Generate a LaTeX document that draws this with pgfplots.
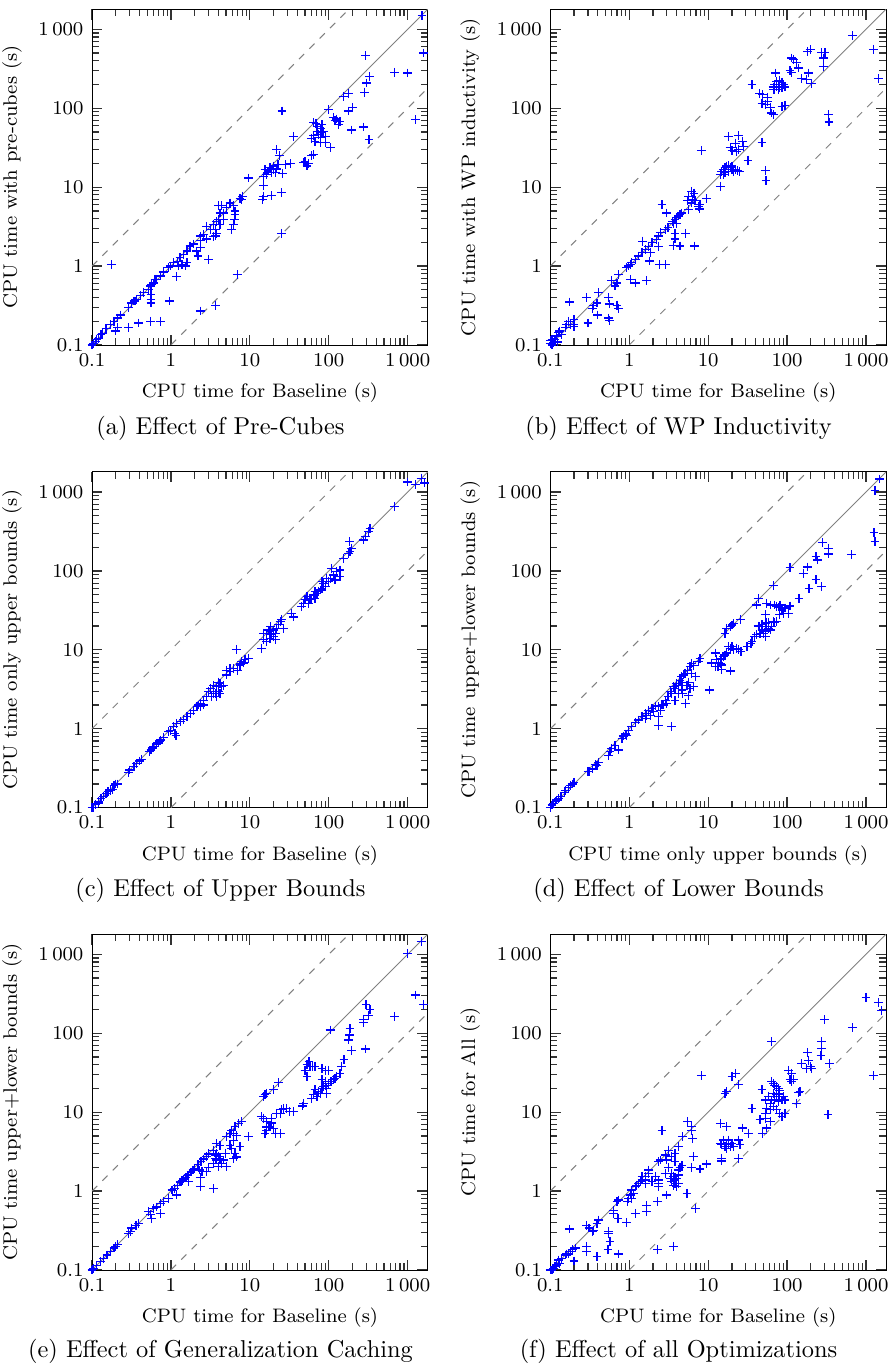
\documentclass[border=0pt]{standalone}
\usepackage{pgfplots}
\pgfplotsset{compat=1.18}

\pgfplotsset{
  every axis/.append style={
    scale only axis, width=137.7pt, height=137.7pt,
    anchor=south west,
    xmin=0.1, xmax=1800, ymin=0.1, ymax=1800,
    log ticks with fixed point,
    /pgf/number format/1000 sep={\,},
    tick label style={font=\footnotesize},
    label style={font=\footnotesize},
  },
  myPts/.style={only marks, mark=+, mark size=1.8pt, blue, line width=0.5pt},
}

% diagonal, 10x faster, 10x slower
\newcommand{\reflines}{%
  \addplot[gray, no marks] coordinates {(0.1,0.1) (1800,1800)};
  \addplot[gray, no marks, dashed] coordinates {(0.1,1) (180,1800)};
  \addplot[gray, no marks, dashed] coordinates {(1,0.1) (1800,180)};
}

\begin{document}
\begin{tikzpicture}
\useasboundingbox (0,0) rectangle (364.49pt,560.06pt);

% (a) pre-cubes
\begin{loglogaxis}[at={(37.72pt,418.61pt)},
  every tick/.style={black!80, line width=0.5pt},
  xlabel={CPU time for Baseline (s)}, ylabel={CPU time with pre-cubes (s)}]
\reflines
\addplot[myPts] coordinates {
(1520,1490) (1600,500) (289,465) (680,286) (1000,280) (1250,72) (283,160) (303,209) (327,250) (275,58) (324,40) (195,53) (177,92) (200,103) (153,142) (177,152) (99,96) (106,31.5) (115,76) (120,70) (133,62) (125,73) (139,68)
(64,66) (71,59) (78,55) (82,50) (74,46) (90,44) (61,41) (67,38) (78,37) (90,37) (82,62) (71,51) (64,45) (78,43) (86,51) (69,64)
(55,20) (50,21) (53,18.5) (61,25) (64,26) (48,20.5)
(36,44) (25.5,92) (33,20) (28,19.4) (26,15) (22,30) (23.5,25) (22.7,19.4) (25,8.5) (25,2.6)
(15.6,16.7) (17,16) (19,15.2) (20,16.7) (18,17.6) (16.3,14.3) (21.3,15.5) (15,13.6) (14.9,10.5) (14.9,7.7) (14.5,7) (19,7.8) (22,17) (20,18.5)
(9.6,13.1) (8.1,7.7) (7.5,7.2) (7.8,7) (6.9,0.78)
(6.2,5.8) (6.5,5) (6.5,4.5) (6.4,3.9) (6.2,3.4) (5.8,2.9) (5.6,6.3) (5.1,5.5) (4.6,4.7) (4,5.8) (4.2,4.7) (4.6,3.9) (4.2,3.4) (3.65,2.9) (3.8,2.6) (3.65,2.4) (3.5,2.35) (4,3.9) (3.75,3.7)
(3,1.2) (3.65,0.32) (2.35,0.27) (1.19,0.74) (0.96,0.36) (0.73,0.2) (0.55,0.2) (0.39,0.19) (0.29,0.165) (0.2,0.15) (0.175,1.05) (0.56,0.44) (0.56,0.38) (0.56,0.34) (1.6,1.1) (1.52,1) (2.1,1.55) (2.35,1.7) (2.2,1.34)
(2.85,2.2) (2.6,2.5) (2.35,2.4) (1.95,1.9) (1.75,1.8) (1.6,1.55) (1.45,1.4) (1.3,1.27) (1.2,1.15) (1.08,1.1) (0.98,1) (0.93,0.95) (0.8,0.82) (0.73,0.75) (0.66,0.68) (0.6,0.61) (0.55,0.56) (0.45,0.46) (0.41,0.42) (0.35,0.36) (0.32,0.34) (0.29,0.3)
(0.21,0.22) (0.19,0.2) (0.17,0.18) (0.15,0.16) (0.13,0.135) (0.115,0.117) (0.105,0.105) (0.11,0.11) (0.12,0.12) (2.85,3.2) (3.15,2.9) (3.5,3.4) (4.4,5.8) (2.35,2.1) (1.38,1.05) (1.25,1) (0.8,0.86) (0.63,0.68) (0.57,0.58) (0.52,0.51) (0.37,0.38) (0.34,0.36) (0.23,0.24) (0.21,0.165) (0.135,0.14) (0.1,0.1)
};
\end{loglogaxis}
\node[anchor=base] at (90.4pt,382.1pt) {(a) Effect of Pre-Cubes};

% (b) WP inductivity
\begin{loglogaxis}[at={(225.62pt,418.61pt)},
  every tick/.style={black!80, line width=0.5pt},
  xlabel={CPU time for Baseline (s)}, ylabel={CPU time with WP inductivity (s)}]
\reflines
\addplot[myPts] coordinates {
(670,830) (1240,560) (1430,237) (182,528) (196,553) (275,512) (303,504) (289,434) (289,340) (205,205) (115,434) (120,414) (109,300) (115,286) (133,383) (139,324) (153,237) (186,280) (176,230) (72,280)
(67,186) (70,199) (74,186) (78,199) (81,181) (86,181) (90,199) (94,186) (78,172) (70,172) (86,213) (80,226) (74,220) (67,172)
(94,108) (86,106) (61,101) (64,87) (67,83) (45,153) (49,149) (57,138) (57,123) (36,200) (48,116) (53,111) (334,83) (341,67)
(18,44) (19,31.5) (24,45) (24,30) (27,38) (28,33) (22,36) (20,29) (23,28.6) (32,22) (48,37) (53,16.3) (54,12.1)
(14.2,14.5) (14.9,15.9) (15.6,16.7) (16.4,17.6) (17.2,18.5) (18.1,18.8) (19,17.6) (20,16.7) (21,15.9) (22,16.7) (23.8,16.3) (24.7,15.9) (16.4,15.2) (18.1,15.9) (20,18.5) (15.6,14.5) (14.2,10.3) (8.2,29) (9.6,7.2)
(6.2,8.9) (6.6,8.4) (5.7,7.7) (6.3,7) (6.8,6.7) (7.5,5.75) (7.9,6) (6.1,6.3) (5.5,6.7) (5.7,5.2) (7.7,5.3)
(2.6,6) (3,4.7) (3.5,3.7) (3.8,3.9) (4,4.1) (4.2,4.3) (4.4,4.5) (3.6,3.5) (4,3.5) (4.6,4.7) (3.8,2.6) (3.8,2.2) (3.6,1.83) (4.4,1.8) (5.2,2.6) (6.7,1.8)
(2.24,2.18) (2.35,2.4) (2.47,2.64) (2.85,2.9) (3.1,3.06) (2.35,1.79) (2.4,1.05) (2.9,1.05) (1.48,2.07) (1.85,1.48) (1.79,1.16) (1.67,0.65)
(1.08,1.1) (1.19,1.21) (1.31,1.34) (1.45,1.48) (1.6,1.63) (1.76,1.79) (1.94,1.98) (0.98,1) (0.93,0.95) (1.03,1.05) (1.03,0.68) (1.19,0.61)
(0.73,0.78) (0.7,0.61) (0.66,0.56) (0.6,0.65) (0.55,0.4) (0.56,0.33) (0.7,0.32) (0.73,0.29) (0.55,0.22) (0.56,0.205) (0.41,0.46) (0.39,0.34) (0.35,0.32) (0.34,0.29) (0.4,0.24) (0.29,0.4) (0.3,0.19)
(0.175,0.35) (0.17,0.2) (0.18,0.18) (0.2,0.17) (0.2,0.21) (0.2,0.18)
(0.105,0.118) (0.115,0.118) (0.12,0.13) (0.126,0.143) (0.132,0.15) (0.11,0.107) (0.1,0.115) (0.124,0.109) (0.14,0.137) (0.1,0.105) (0.105,0.1) (0.155,0.165) (0.16,0.18)
};
\end{loglogaxis}
\node[anchor=base] at (278.2pt,382.1pt) {(b) Effect of WP Inductivity};

% (c) upper bounds
\begin{loglogaxis}[at={(37.72pt,228.90pt)},
  every tick/.style={black!80, line width=0.5pt},
  xlabel={CPU time for Baseline (s)}, ylabel={CPU time only upper bounds (s)}]
\reflines
\addplot[myPts] coordinates {
(1000,1340) (1250,1240) (1480,1500) (1630,1300) (680,660) (334,347) (320,314) (289,272) (275,247) (183,235) (195,194) (186,176) (177,167) (153,145) (139,103) (126,98) (109,108) (115,89) (120,77) (139,85) (104,81)
(86,70) (90,63) (82,60) (78,57.5) (74,54.7) (71,52) (67,54.7) (64,49.6) (61,45) (58,43) (53,47) (50,43) (48,39) (45.5,35.3) (55,39) (67,45) (82,73) (99,73) (94,81) (34,29) (36,26)
(14.2,10.5) (14.9,13.4) (16.4,16.3) (17.2,17.9) (18,17) (18.9,15.5) (20,14.8) (20.9,13.4) (22,18.8) (23,20.8) (24.2,22.8) (25.4,24) (26.6,18.8) (20.9,16.3) (18,14) (14.9,16.3) (16.4,12.8) (18.4,19.8) (20,17.9)
(9.6,7.8) (8.3,6.8) (7.5,6.4) (6.9,5.5) (6.2,5.8) (5.6,5.3) (5.1,4.8) (6.7,10.2) (7.9,7.1) (7.7,6.6) (8.7,7.6) (5.1,5.5) (5.6,5.8)
(3.15,3.24) (3.47,3.57) (3.8,3.4) (4,2.94) (4.2,2.8) (3.65,2.8) (3.8,2.55) (4.4,3.4) (4.65,3.57) (4,3.9) (3.47,2.8) (3.3,2.55) (3,2.94) (4.2,3.75)
(2.35,2.1) (2.6,2.3) (2.85,2.55) (2.24,2) (2.14,1.9) (1.94,1.72) (1.76,1.56) (1.6,1.42) (1.45,1.31) (1.31,1.23) (1.19,1.17) (2.35,1.9) (2.6,2)
(1.08,1.06) (0.98,0.96) (1.13,0.87) (0.93,0.92) (1.16,0.83)
(0.8,0.78) (0.72,0.7) (0.66,0.64) (0.6,0.6) (0.56,0.54) (0.53,0.52) (0.4,0.39) (0.37,0.36) (0.34,0.33) (0.3,0.3) (0.29,0.28) (0.2,0.2) (0.19,0.19) (0.18,0.17) (0.16,0.16) (0.15,0.15) (0.14,0.14) (0.13,0.13) (0.12,0.12) (0.11,0.11) (0.1,0.1) (0.105,0.1) (0.12,0.115) (0.17,0.165) (0.21,0.2) (0.42,0.41) (0.74,0.72) (0.69,0.66) (0.58,0.57)
};
\end{loglogaxis}
\node[anchor=base] at (90.4pt,192.4pt) {(c) Effect of Upper Bounds};

% (d) lower bounds
\begin{loglogaxis}[at={(225.62pt,228.90pt)},
  every tick/.style={black!80, line width=0.5pt},
  xlabel={CPU time only upper bounds (s)}, ylabel={CPU time upper+lower bounds (s)}]
\reflines
\addplot[myPts] coordinates {
(1480,1460) (1300,1050) (1260,306) (1300,235) (660,160) (280,229) (334,194) (334,164) (233,152) (245,138) (233,78) (275,63) (161,92) (183,112) (190,60) (109,110) (109,36) (142,45) (104,29)
(67,65) (70,37) (78,35) (86,32) (90,29) (94,34) (81,28) (74,23)
(43,20) (48,21) (53,21.4) (55,19.8) (58,18.8) (61,17.9) (53,17) (50,16.3) (45.5,16.3) (41,15.5) (64,19.8) (70,22) (67,22.8) (58,22) (48,17.9) (53,14.8) (39,14.8) (55,22) (45,19.8)
(41,37) (43,45) (55,39) (74,35.5) (81.5,37) (61,37) (53,28) (36,12.8) (35,12) (31,11) (24,10) (23,10.5) (26,9.5)
(17.2,18.8) (19,19.8) (20,20.7) (16.4,16.3) (21,21.4) (25.6,24)
(12.3,9.1) (12.9,7.5) (13.5,6.8) (14.2,6.7) (14.9,6.45) (13.3,6.15) (14.9,5.6) (16.4,8.6) (18.1,11) (19,10.5) (20,11) (21,10) (19,5.4) (12.3,6.15) (14.9,7.5) (14.2,7.8) (11.1,6.8) (15.6,8.2) (17.2,9.1) (10.3,3.1)
(5.1,5) (5.5,5.5) (5.9,6.1) (6.2,6.7) (6.55,6.4) (5.4,3.57) (5.65,2.67) (5.9,3.24) (6.9,4.55) (7.9,7.8) (7.5,7.1) (5.2,2.1) (4.6,4.6) (4.9,4.8) (6.1,5) (6.55,3.4) (4.74,2.8) (5.65,3.9)
(2.85,2.3) (3.1,2.55) (3.47,2.8) (3.8,3.24) (4.2,3.57) (4.65,3.9) (3.3,2.94) (3.65,3.4) (4,3.75) (4.4,4.1) (2.6,2) (2.35,1.9) (2.47,1.72) (3.8,2.3) (4.2,2.8) (2.7,2) (2.97,2.1) (2.35,1.42) (2.35,1.1) (3.47,1.08) (4.65,3.1)
(1.08,1.08) (1.19,1.19) (1.31,1.29) (1.45,1.42) (1.6,1.56) (1.76,1.69) (1.94,1.81) (2.14,1.94) (1.6,1.35) (1.85,1.49) (2.04,1.64) (1.67,1.49)
(0.89,0.86) (0.73,0.54) (0.55,0.46) (0.57,0.51) (0.6,0.56) (0.66,0.62) (0.81,0.75) (0.93,0.83) (0.98,0.96) (0.84,0.81)
(0.31,0.29) (0.34,0.31) (0.39,0.34) (0.41,0.37) (0.37,0.35) (0.3,0.29)
(0.19,0.2) (0.18,0.19) (0.2,0.21) (0.17,0.18) (0.155,0.167) (0.15,0.155) (0.127,0.13) (0.116,0.12) (0.105,0.108) (0.11,0.112) (0.137,0.14) (0.12,0.125) (0.1,0.1)
};
\end{loglogaxis}
\node[anchor=base] at (278.2pt,192.4pt) {(d) Effect of Lower Bounds};

% (e) generalization caching
\begin{loglogaxis}[at={(37.72pt,39.36pt)},
  every tick/.style={black!80, line width=0.5pt},
  xlabel={CPU time for Baseline (s)}, ylabel={CPU time upper+lower bounds (s)}]
\reflines
\addplot[myPts] coordinates {
(1480,1450) (1000,1030) (1250,306) (1600,233) (680,163) (297,233) (334,198) (320,166) (275,150) (275,136) (289,63) (186,115) (183,95) (177,82) (195,61) (156,46) (104,110)
(146,38) (139,31) (126,28) (120,27) (109,24.5) (99,23) (90,22) (82,20) (74,18.3) (67,19.2) (78,17.4) (86,21) (94,20) (104,24.5) (115,26) (71,15.8) (61,15) (64,16.6) (90,24.5) (82,25.7) (94,17.4)
(67,38) (53,40) (50,34) (53,28) (58,38) (82,36) (90,34) (99,34) (47,12) (48,12.8) (56,44) (62,38)
(35.7,10.2) (32,10.2) (29,11.2) (26.6,11.2) (25.4,10.7) (24.2,9.7) (22,9.7) (21,5.4) (19,7.3) (16.4,7.6) (19,8.4) (18,6.5) (20,6.2) (24.2,5.4) (17.2,6.5) (14.9,8.4) (14.2,8.8) (16.4,6.5) (16.4,5.9) (15.6,5.4)
(14.9,15.8) (15.6,16.6) (16.4,17.4) (20,19.3) (23,23.5)
(7.9,7.6) (7.2,7.2) (6.5,6.6) (5.9,5.9) (5.6,5.4) (5.1,4.9) (6.2,5.4) (6.85,5.1) (5.9,3.5) (6.5,3) (9.6,4.9) (6.2,4.4) (5.6,3.8) (7.5,3.7) (6.85,2.7) (6.2,2.6)
(3.47,3.3) (3.8,3) (4,2.72) (4.2,2.6) (3.65,2.86) (3.8,2.47) (3.47,2.24) (4,2.03) (4.4,2.24) (4.65,2.47) (4.9,3) (4.2,3.8) (3.8,4) (5.1,2.03) (3.65,2.6) (3,3)
(3.5,1.08) (2.35,1.13) (2.35,1.5) (2.47,1.76) (2.3,1.85) (2.85,1.76) (3,1.97) (1.67,1.31) (1.19,0.89) (0.93,0.81) (1.03,1.03)
(1.05,1.02) (1.1,1.08) (1.2,1.17) (1.3,1.3) (1.38,1.35) (1.45,1.42) (1.55,1.5) (1.65,1.6) (1.8,1.75) (1.9,1.85) (2,1.95) (2.2,2.15) (2.4,2.35) (2.6,2.55) (2.8,2.75) (3,2.95)
(0.73,0.52) (0.57,0.45) (0.55,0.5) (0.52,0.55) (0.6,0.6) (0.66,0.63) (0.73,0.7) (0.81,0.73)
(0.39,0.39) (0.36,0.37) (0.32,0.34) (0.31,0.31) (0.29,0.29)
(0.21,0.21) (0.19,0.19) (0.17,0.17) (0.155,0.155) (0.14,0.14) (0.127,0.127) (0.115,0.115) (0.105,0.105) (0.2,0.2) (0.1,0.1)
};
\end{loglogaxis}
\node[anchor=base] at (90.4pt,3.3pt) {(e) Effect of Generalization Caching};

% (f) all optimizations
\begin{loglogaxis}[at={(225.62pt,39.36pt)},
  every tick/.style={black!80, line width=0.5pt},
  xlabel={CPU time for Baseline (s)}, ylabel={CPU time for All (s)}]
\reflines
\addplot[myPts] coordinates {
(1000,286) (1430,247) (1580,192) (1240,29) (670,118) (297,148) (275,78) (275,64) (270,52) (344,41) (330,9.3) (183,57) (186,45) (196,38) (153,41) (177,36) (205,36) (64,78)
(104,34) (115,31) (120,26) (115,24.5) (109,26) (139,17.7) (133,13) (146,18.2) (94,14.3) (90,15.8)
(64,24.5) (67,23) (70,22) (74,21) (78,20) (81,19) (78,17.4) (74,16.6) (70,15.8) (64,14.3) (61,13) (67,11.8) (74,10.7) (81,9.7) (86,8.8) (86,14.3) (78,13.6) (58,15.8) (55,11.2) (53,9.7) (61,10.7) (94,9.7) (70,14.3) (78,15.8) (81,16.6) (67,17.4)
(48,19.2) (53,14.3) (36,11.2) (45.5,8) (53,8.4) (49,5.4) (55,6.3) (61,7.6) (27.5,6.3) (32.4,5.4) (24,4.45) (25.4,3.85) (24,2.6)
(14.2,4) (14.9,3.85) (16.4,3.7) (17.2,4) (18.1,3.85) (19,3.7) (20,4) (21,3.7) (18.1,4.45) (15.6,4.45) (17.2,3.5) (14.9,2.6) (14.9,2.4) (14.2,7.25) (17.2,6.6) (17.2,18.2) (16.4,17.4) (20,28.4) (22,31.2) (24.2,22.2) (8.2,29)
(5.5,7.6) (6.2,6.6) (6.3,4.6) (6.55,2.75) (6.2,2) (7.9,1.9) (9.6,2.2) (5.4,0.93) (6.9,0.6) (4.7,4.9) (6.2,5.9)
(3.47,1.67) (3.65,1.52) (3.8,1.38) (4,1.45) (4.2,1.6) (3.8,1.25) (3.65,1.19) (4,1.13) (4.2,1.25) (4.4,2) (4.65,2.1) (3.47,1.31) (3.3,1.45) (4.2,1.85) (3.8,2.35) (3.47,2.72) (3,2.47) (3.15,2) (4.2,3.65) (3.8,3)
(2.6,5.9) (3.15,3.3) (2.85,2.86) (2.35,2.35) (2.47,2.47)
(1.76,1.85) (1.94,1.31) (2.35,1.25) (2.35,1.13) (2.3,0.73) (3,0.89) (2.14,1.52) (2.35,1.38) (2.85,1.67) (2.3,0.18) (3.65,0.2) (1.67,0.66) (1.67,0.55) (1.19,0.52) (1.6,1.38) (1.6,1.25) (1.45,1.52)
(1.08,1.03) (1.19,1.13) (1.31,1.25) (1.45,1.38) (1.6,1.52) (1.76,1.67) (1.25,1.19) (1.38,1.31) (1.03,0.89) (1.08,0.81) (1.13,0.93) (0.98,0.81) (0.96,0.73) (0.93,0.4)
(0.73,0.77) (0.7,0.73) (0.63,0.57) (0.63,0.52) (0.72,0.45) (0.55,0.31) (0.55,0.29) (0.57,0.23) (0.54,0.18) (0.73,0.16) (0.39,0.147)
(0.29,0.37) (0.31,0.34) (0.34,0.31) (0.39,0.39) (0.41,0.43) (0.35,0.32) (0.29,0.2) (0.29,0.17) (0.174,0.33) (0.2,0.13)
(0.132,0.12) (0.126,0.134) (0.14,0.14) (0.155,0.155) (0.16,0.16) (0.18,0.17) (0.19,0.18) (0.115,0.11) (0.11,0.105) (0.12,0.116) (0.21,0.19) (0.17,0.16) (0.1,0.1) (0.105,0.1)
};
\end{loglogaxis}
\node[anchor=base] at (278.2pt,3.3pt) {(f) Effect of all Optimizations};

\end{tikzpicture}
\end{document}
